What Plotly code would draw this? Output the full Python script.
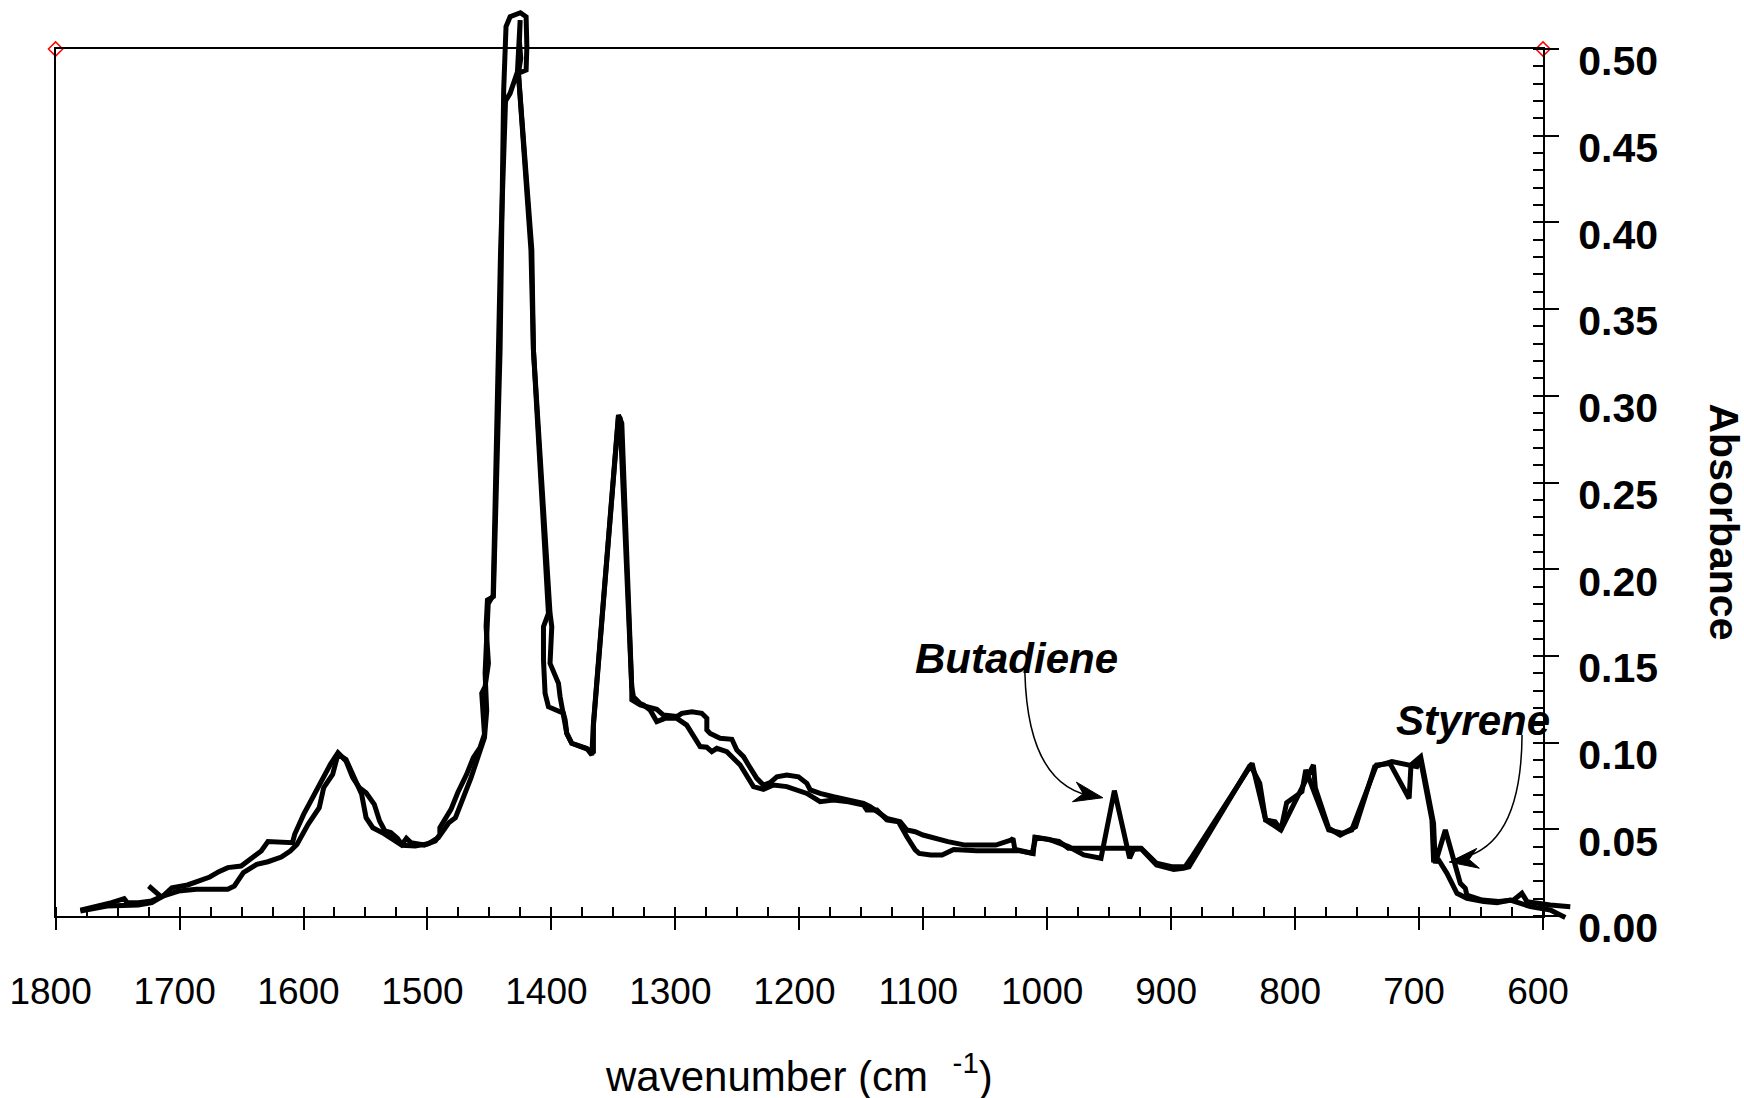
import math
import plotly.graph_objects as go

# Two overlaid FTIR absorbance spectra (wavenumber in cm-1, absorbance)
wavenumber_1 = [
    1780.0, 1767.4, 1754.8, 1744.7, 1742.2, 1733.2, 1722.4, 1713.4, 1706.2, 1693.5,
    1684.6, 1675.6, 1668.3, 1661.1, 1650.3, 1643.1, 1634.1, 1628.7, 1608.9, 1607.1,
    1599.9, 1592.7, 1585.5, 1578.3, 1572.2, 1565.7, 1560.3, 1554.9, 1549.5, 1542.9,
    1538.6, 1534.3, 1529.6, 1524.3, 1520.6, 1517.0, 1513.4, 1502.6, 1493.6, 1490.0,
    1490.0, 1484.6, 1481.0, 1475.6, 1472.0, 1468.4, 1463.0, 1457.6, 1454.0, 1456.2,
    1453.5, 1450.8, 1452.7, 1451.6, 1446.8, 1441.4, 1438.5, 1436.6, 1433.3, 1425.0,
    1420.4, 1419.8, 1420.4, 1426.6, 1415.8, 1414.5, 1401.1, 1399.7, 1401.1, 1394.3,
    1393.0, 1390.3, 1387.6, 1383.6, 1371.5, 1367.4, 1366.1, 1345.9, 1343.2, 1335.2,
    1335.1, 1328.4, 1320.4, 1315.0, 1309.6, 1298.8, 1294.8, 1286.7, 1278.7, 1274.6,
    1274.6, 1271.9, 1263.9, 1254.4, 1250.4, 1245.0, 1241.0, 1234.3, 1228.9, 1223.5,
    1218.1, 1210.1, 1200.7, 1193.9, 1191.2, 1183.2, 1172.4, 1161.6, 1148.2, 1142.8,
    1137.4, 1129.4, 1118.6, 1113.2, 1106.5, 1100.2, 1080.1, 1066.2, 1053.9, 1041.5,
    1029.2, 1027.6, 1026.1, 1016.8, 1011.3, 1010.0, 990.6, 982.9, 924.2, 911.8,
    899.5, 888.7, 884.0, 834.7, 823.8, 816.1, 811.5, 806.8, 794.5, 791.4,
    772.9, 762.0, 754.3, 748.2, 734.3, 723.5, 709.5, 708.0, 706.5, 698.7,
    688.3, 686.9, 678.8, 673.5, 666.7, 662.7, 661.4, 649.2, 635.8, 623.7,
    617.0, 612.9, 594.1, 578.0,
]
absorbance_1 = [
    0.0033, 0.0052, 0.0077, 0.0100, 0.0077, 0.0077, 0.0087, 0.0115, 0.0163, 0.0179,
    0.0202, 0.0225, 0.0256, 0.0279, 0.0288, 0.0327, 0.0375, 0.0429, 0.0423, 0.0471,
    0.0586, 0.0682, 0.0779, 0.0875, 0.0942, 0.0894, 0.0798, 0.0740, 0.0711, 0.0644,
    0.0548, 0.0490, 0.0481, 0.0448, 0.0413, 0.0448, 0.0423, 0.0409, 0.0433, 0.0471,
    0.0509, 0.0567, 0.0615, 0.0711, 0.0759, 0.0817, 0.0913, 0.0971, 0.1048, 0.1284,
    0.1323, 0.1457, 0.1669, 0.1822, 0.1842, 0.3264, 0.4764, 0.5129, 0.5186, 0.5209,
    0.5186, 0.5013, 0.4879, 0.4860, 0.3841, 0.3264, 0.1745, 0.1669, 0.1457, 0.1342,
    0.1265, 0.1169, 0.1053, 0.0996, 0.0967, 0.0928, 0.1111, 0.2889, 0.2841, 0.1323,
    0.1246, 0.1217, 0.1198, 0.1192, 0.1159, 0.1150, 0.1169, 0.1178, 0.1169, 0.1140,
    0.1073, 0.1053, 0.1025, 0.1019, 0.0957, 0.0919, 0.0871, 0.0794, 0.0755, 0.0769,
    0.0803, 0.0813, 0.0803, 0.0765, 0.0727, 0.0707, 0.0688, 0.0673, 0.0650, 0.0630,
    0.0602, 0.0563, 0.0544, 0.0496, 0.0486, 0.0467, 0.0429, 0.0409, 0.0409, 0.0409,
    0.0438, 0.0448, 0.0384, 0.0371, 0.0361, 0.0454, 0.0431, 0.0390, 0.0390, 0.0304,
    0.0284, 0.0284, 0.0333, 0.0880, 0.0554, 0.0544, 0.0496, 0.0654, 0.0717, 0.0842,
    0.0496, 0.0477, 0.0496, 0.0611, 0.0871, 0.0880, 0.0707, 0.0678, 0.0871, 0.0919,
    0.0534, 0.0304, 0.0496, 0.0361, 0.0188, 0.0160, 0.0121, 0.0092, 0.0083, 0.0092,
    0.0131, 0.0083, 0.0063, 0.0054,
]

wavenumber_2 = [
    1780.0, 1758.4, 1733.2, 1722.4, 1713.4, 1700.8, 1686.4, 1661.1, 1655.8, 1648.5,
    1637.7, 1628.7, 1617.9, 1610.7, 1605.3, 1596.3, 1587.3, 1583.7, 1576.5, 1572.2,
    1565.7, 1558.5, 1553.1, 1549.5, 1544.1, 1535.1, 1527.9, 1520.6, 1509.9, 1499.1,
    1491.2, 1482.8, 1477.4, 1472.0, 1464.8, 1457.6, 1454.0, 1452.2, 1453.5, 1451.0,
    1447.0, 1441.0, 1437.0, 1433.3, 1427.4, 1425.2, 1425.8, 1424.7, 1426.6, 1416.5,
    1414.5, 1402.4, 1406.4, 1406.4, 1405.1, 1402.4, 1394.3, 1390.3, 1388.9, 1387.6,
    1383.6, 1376.9, 1368.8, 1366.1, 1366.1, 1345.9, 1344.6, 1335.2, 1333.8, 1328.4,
    1325.7, 1320.4, 1315.0, 1308.3, 1298.8, 1290.8, 1285.4, 1280.0, 1274.6, 1270.6,
    1266.5, 1258.5, 1247.7, 1237.0, 1228.9, 1220.8, 1210.1, 1202.0, 1193.9, 1183.2,
    1172.4, 1160.3, 1148.2, 1145.5, 1137.4, 1129.4, 1120.0, 1113.2, 1106.5, 1103.3,
    1094.0, 1084.8, 1075.5, 1057.0, 1023.0, 1012.2, 1009.1, 998.3, 982.9, 970.5,
    958.2, 956.6, 945.8, 933.5, 930.4, 924.2, 911.8, 897.9, 890.2, 885.6,
    836.2, 828.5, 823.8, 811.5, 800.7, 785.2, 783.7, 772.9, 763.6, 751.2,
    735.8, 721.9, 701.8, 699.0, 689.6, 688.3, 684.2, 677.5, 669.4, 661.4,
    647.9, 637.1, 626.4, 610.2, 594.1, 582.0,
    None, 1724.9, 1713.4,
]
absorbance_2 = [
    0.0029, 0.0058, 0.0063, 0.0077, 0.0115, 0.0144, 0.0154, 0.0154, 0.0173, 0.0250,
    0.0298, 0.0313, 0.0340, 0.0375, 0.0413, 0.0529, 0.0625, 0.0740, 0.0817, 0.0932,
    0.0903, 0.0779, 0.0702, 0.0567, 0.0509, 0.0475, 0.0442, 0.0408, 0.0404, 0.0417,
    0.0452, 0.0538, 0.0567, 0.0663, 0.0798, 0.0952, 0.1028, 0.1182, 0.1400, 0.1800,
    0.1850, 0.3840, 0.4700, 0.4744, 0.4869, 0.5167, 0.5042, 0.4946, 0.4860, 0.3841,
    0.3264, 0.1745, 0.1669, 0.1476, 0.1284, 0.1207, 0.1178, 0.1169, 0.1130, 0.1053,
    0.0996, 0.0976, 0.0957, 0.0938, 0.1100, 0.2880, 0.2870, 0.1323, 0.1265, 0.1226,
    0.1217, 0.1188, 0.1121, 0.1140, 0.1140, 0.1101, 0.1034, 0.0977, 0.0973, 0.0948,
    0.0967, 0.0948, 0.0871, 0.0746, 0.0730, 0.0755, 0.0746, 0.0727, 0.0707, 0.0659,
    0.0669, 0.0659, 0.0640, 0.0611, 0.0611, 0.0554, 0.0544, 0.0457, 0.0381, 0.0361,
    0.0352, 0.0352, 0.0384, 0.0377, 0.0377, 0.0361, 0.0454, 0.0442, 0.0400, 0.0352,
    0.0333, 0.0333, 0.0723, 0.0333, 0.0384, 0.0388, 0.0294, 0.0269, 0.0275, 0.0284,
    0.0871, 0.0765, 0.0554, 0.0496, 0.0650, 0.0871, 0.0740, 0.0506, 0.0467, 0.0515,
    0.0861, 0.0890, 0.0861, 0.0909, 0.0554, 0.0323, 0.0323, 0.0246, 0.0131, 0.0102,
    0.0083, 0.0077, 0.0092, 0.0054, 0.0035, -0.0008,
    None, 0.0173, 0.0102,
]

x_tick_values = [1800, 1700, 1600, 1500, 1400, 1300, 1200, 1100, 1000, 900, 800, 700, 600]
x_tick_labels = [str(v) for v in x_tick_values]
y_tick_values = [0.00, 0.05, 0.10, 0.15, 0.20, 0.25, 0.30, 0.35, 0.40, 0.45, 0.50]
y_tick_labels = ["%.2f" % v for v in y_tick_values]

corner_wavenumber = [1800, 600]
corner_absorbance = [0.50, 0.50]

# Band labels: text, label centre, curved leader (start, control, end) and arrow tip
band_labels = [
    dict(text="Butadiene", x=1024.6, y=0.1486,
         start=(1018.0, 0.1402), ctrl=(1015.5, 0.0727), end=(958.8, 0.0686),
         tip=(955.1, 0.0682), direction=(23, 4.7)),
    dict(text="Styrene", x=656.6, y=0.1126,
         start=(616.9, 0.1044), ctrl=(617.5, 0.0381), end=(670.7, 0.0329),
         tip=(675.6, 0.0311), direction=(-61, 8)),
]

FONT = "Liberation Sans, Arial, Helvetica, sans-serif"

# Page and frame geometry (pixels)
W, H = 1744, 1098
FRAME_L, FRAME_R, FRAME_T, FRAME_B = 55.6, 1543.0, 49.0, 916.0
X_RANGE = [1800, 600]
Y_RANGE = [0.0, 0.5]

x_dom = [FRAME_L / W, FRAME_R / W]
y_dom = [(H - FRAME_B) / H, (H - FRAME_T) / H]

# The spectra live on a full-page axis pair with the same scale as the frame,
# so that the parts running past the frame (peak tops, tail) are not clipped.
kx = (X_RANGE[1] - X_RANGE[0]) / (FRAME_R - FRAME_L)
ky = (Y_RANGE[1] - Y_RANGE[0]) / (FRAME_B - FRAME_T)
x_full = [X_RANGE[0] - FRAME_L * kx, X_RANGE[0] + (W - FRAME_L) * kx]
y_full = [Y_RANGE[0] - (H - FRAME_B) * ky, Y_RANGE[0] + FRAME_B * ky]

fig = go.Figure()

for wn, ab in ((wavenumber_1, absorbance_1), (wavenumber_2, absorbance_2)):
    fig.add_trace(go.Scatter(
        x=wn, y=ab, xaxis="x3", yaxis="y3", mode="lines", connectgaps=False,
        line=dict(color="black", width=5),
        showlegend=False, hoverinfo="skip",
    ))

fig.add_trace(go.Scatter(
    x=corner_wavenumber, y=corner_absorbance, xaxis="x2", yaxis="y2",
    mode="markers", cliponaxis=False, showlegend=False, hoverinfo="skip",
    marker=dict(symbol="diamond-open", size=11, color="red",
                line=dict(color="red", width=1.5)),
))


def stealth_head(direction, length=29, half_width=10, notch=9):
    """Pixel-space path of a barbed arrowhead whose tip sits at the anchor."""
    dx, dy = direction
    n = math.hypot(dx, dy)
    ux, uy = dx / n, -dy / n          # screen y grows downward, path y grows upward
    px, py = -uy, ux
    bx, by = -ux * length, -uy * length
    pts = [
        (0, 0),
        (bx + px * half_width, by + py * half_width),
        (-ux * (length - notch), -uy * (length - notch)),
        (bx - px * half_width, by - py * half_width),
    ]
    return "M " + " L ".join("%.2f,%.2f" % p for p in pts) + " Z"


for lab in band_labels:
    fig.add_annotation(
        x=lab["x"], y=lab["y"], xref="x", yref="y", text="<b><i>%s</i></b>" % lab["text"],
        showarrow=False, xanchor="center", yanchor="middle",
        font=dict(family=FONT, size=42, color="black"),
    )
    s, c, e = lab["start"], lab["ctrl"], lab["end"]
    fig.add_shape(
        type="path", xref="x", yref="y",
        path="M %s,%s Q %s,%s %s,%s" % (s[0], s[1], c[0], c[1], e[0], e[1]),
        line=dict(color="black", width=1.5),
    )
    fig.add_shape(
        type="path", xref="x", yref="y", xsizemode="pixel", ysizemode="pixel",
        xanchor=lab["tip"][0], yanchor=lab["tip"][1],
        path=stealth_head(lab["direction"]),
        fillcolor="black", line=dict(color="black", width=1),
    )

# Axis titles
fig.add_annotation(
    xref="paper", yref="paper", x=(x_dom[0] + x_dom[1]) / 2, y=(H - 1073) / H, xshift=0,
    text="wavenumber (cm<sup>\u00a0\u00a0\u00a0-1</sup>)", showarrow=False,
    xanchor="center", yanchor="middle",
    font=dict(family=FONT, size=42, color="black"),
)
fig.add_annotation(
    xref="paper", yref="paper", x=1724 / W, y=(H - 521.5) / H,
    text="<b>Absorbance</b>", textangle=90, showarrow=False,
    xanchor="center", yanchor="middle",
    font=dict(family=FONT, size=41, color="black"),
)

fig.update_layout(
    width=W, height=H,
    margin=dict(l=0, r=0, t=0, b=0, autoexpand=False),
    paper_bgcolor="white", plot_bgcolor="rgba(0,0,0,0)",
    showlegend=False,
    xaxis=dict(
        domain=x_dom, anchor="y", range=X_RANGE, automargin=False,
        showgrid=False, zeroline=False,
        showline=True, linecolor="black", linewidth=2, mirror=True,
        tickmode="array", tickvals=x_tick_values, ticktext=x_tick_labels,
        ticks="outside", ticklen=12, tickwidth=1.5, tickcolor="black",
        ticklabelstandoff=30, ticklabelshift=5,
        tickfont=dict(family=FONT, size=37, color="black"),
        minor=dict(ticks="inside", ticklen=9, tickwidth=1.5, tickcolor="black",
                   tick0=600, dtick=25, showgrid=False),
    ),
    xaxis2=dict(
        overlaying="x", matches="x", anchor="y", side="bottom", automargin=False,
        showgrid=False, zeroline=False, showline=False,
        tickmode="array", tickvals=x_tick_values, showticklabels=False,
        ticks="inside", ticklen=8, tickwidth=1.5, tickcolor="black",
    ),
    yaxis=dict(
        domain=y_dom, anchor="x", range=Y_RANGE, side="right", automargin=False,
        showgrid=False, zeroline=False,
        showline=True, linecolor="black", linewidth=2, mirror=True,
        tickmode="array", tickvals=y_tick_values, ticktext=y_tick_labels,
        ticks="outside", ticklen=14, tickwidth=1.5, tickcolor="black",
        ticklabelstandoff=11, ticklabelshift=12,
        tickfont=dict(family=FONT, size=41, color="black", weight="bold"),
        minor=dict(ticks="inside", ticklen=10, tickwidth=1.5, tickcolor="black",
                   tick0=0, dtick=0.01, showgrid=False),
    ),
    yaxis2=dict(
        overlaying="y", matches="y", anchor="x", side="right", automargin=False,
        showgrid=False, zeroline=False, showline=False,
        tickmode="array", tickvals=y_tick_values, showticklabels=False,
        ticks="inside", ticklen=10, tickwidth=1.5, tickcolor="black",
    ),
    xaxis3=dict(domain=[0, 1], anchor="y3", range=x_full, visible=False,
                fixedrange=True, automargin=False),
    yaxis3=dict(domain=[0, 1], anchor="x3", range=y_full, visible=False,
                fixedrange=True, automargin=False),
)

fig.write_html("out.html")
